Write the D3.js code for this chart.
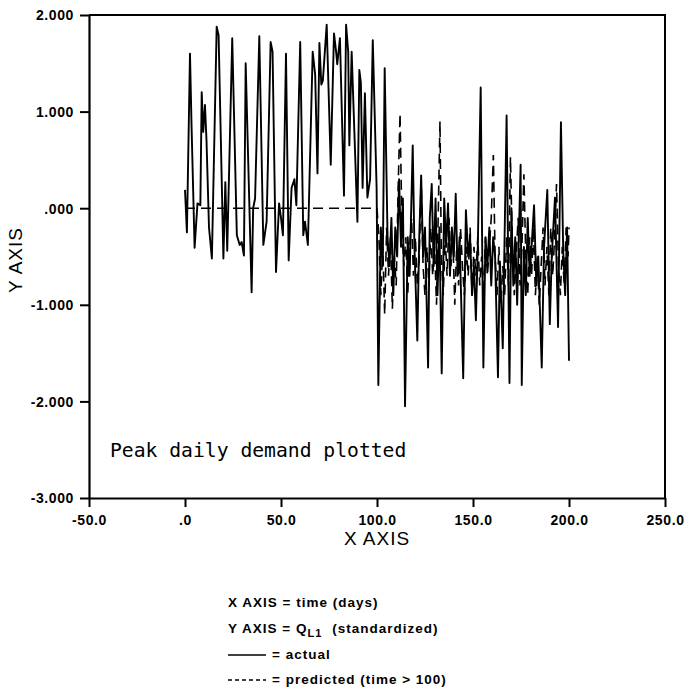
<!DOCTYPE html>
<html><head><meta charset="utf-8">
<script src="https://cdn.jsdelivr.net/npm/d3@7"></script>
<style>body{margin:0;background:#fff}</style>
</head><body>
<script>
const xTicks = [-50, 0, 50, 100, 150, 200, 250];
const xTickLabels = ["-50.0", ".0", "50.0", "100.0", "150.0", "200.0", "250.0"];
const yTicks = [-3, -2, -1, 0, 1, 2];
const yTickLabels = ["-3.000", "-2.000", "-1.000", ".000", "1.000", "2.000"];

// actual (solid) : [day, value]
const actual = [
[0,0.19],[1,-0.25],[2.6,1.6],[3.4,0.86],[5,-0.41],[6.5,0.05],[8,0.03],[8.7,1.2],[9.5,0.79],[10.4,1.07],
[11.2,0.7],[12.5,-0.2],[14,-0.52],[16.5,1.88],[17.5,1.79],[20,-0.52],[21,0.27],[22,-0.44],[24.6,1.76],[27,-0.28],
[28.5,-0.38],[29.5,-0.35],[30.7,-0.49],[31.6,1.5],[34.7,-0.87],[35.5,0.0],[36.5,0.1],[38.7,1.78],[40.8,-0.38],[42.5,-0.14],
[44.6,1.72],[45.6,1.62],[47.4,-0.66],[49,0.05],[50,-0.1],[51,-0.28],[52.6,1.6],[54,-0.54],[55.5,0.21],[57,0.3],
[58,0.03],[60,1.72],[61.6,-0.28],[62.5,-0.14],[64,-0.38],[66.5,1.62],[67.8,1.38],[69,0.36],[70,1.71],[71,1.28],
[71.8,1.32],[73.8,1.9],[75.9,0.45],[77.6,1.81],[78.7,1.62],[79.3,1.49],[80.7,1.76],[82.8,0.13],[83.9,1.9],[85,1.62],
[85.6,0.65],[86.8,1.62],[89.8,-0.14],[90.8,1.43],[91.6,1.3],[92.5,0.21],[93.7,1.19],[95,0.11],[96.4,0.3],[97.8,1.74],
[99.8,0.21],[100.7,-1.83],[102,-0.2],[103,-0.6],[104,1.45],[105.5,-0.3],[106.5,-0.6],[107.5,-0.1],[108.5,-0.9],[109.5,-0.2],
[110.5,-0.5],[111.5,0.3],[112.5,-0.4],[113.5,0.1],[114.6,-2.05],[116,-0.3],[117,-0.7],[118.6,0.65],[119.5,-0.4],[121,-1.37],
[122,-0.3],[123,0.34],[124,-0.5],[125,-0.2],[126.6,-1.65],[127.5,-0.1],[128.5,0.25],[129.5,-0.6],[130.5,0.1],[131.5,-0.9],
[132.5,-0.2],[133.7,-1.71],[135,0.1],[136,-0.4],[137,0.05],[138,-0.7],[139,-0.2],[140,-0.5],[141,0.15],[142,-0.7],
[143,-0.3],[144.9,-1.76],[146.3,-0.02],[147.5,-0.5],[148.5,-0.3],[149.5,-0.9],[150.5,-0.6],[151.5,-1.16],[152.5,-0.4],[154,1.25],
[155.4,-1.65],[156.5,-0.3],[157.5,-0.6],[158.5,-0.2],[159.5,-0.8],[160.5,-0.3],[161.5,-0.5],[163,-1.75],[164,-0.55],[165.5,-1.45],
[167.5,0.96],[169,-1.81],[170,0.0],[171,-0.8],[172,-0.3],[173,-1.0],[174.8,0.45],[175.4,-1.83],[176.5,-0.4],[177.5,-0.9],
[178.5,-0.1],[179.5,-0.7],[180.5,-0.4],[181.8,0.03],[183,-0.8],[184,-0.5],[185.8,-1.65],[187,-0.4],[188.7,0.19],[190,-1.2],
[191,-0.5],[192.7,0.11],[194.3,-1.23],[195.8,0.89],[197,-0.45],[198,-0.9],[199,-0.2],[200,-1.58]
];

// predicted (dashed) : [day, value]
const predicted = [
[0,0],[100,0],[101,-0.3],[102,-0.9],[103,-0.4],[104,-1.1],[105,-0.2],[106,-0.7],[107,-0.3],[108,-1.04],
[109,-0.5],[110,-0.8],[111,0.2],[112,0.98],[113,-0.2],[114,-0.6],[115,-0.3],[116,-0.9],[117,-0.4],[118,-0.1],
[119,-0.7],[120,-0.3],[121,-0.8],[122,-0.5],[123,0.3],[124,-0.6],[125,-0.9],[126,-0.4],[127,-0.8],[128,-0.2],
[129,-0.7],[130,-0.4],[131,-1.0],[132.8,0.9],[133.5,-0.5],[134.5,-0.9],[135.5,-0.3],[136.5,-0.7],[137.5,-0.1],[138.5,-0.6],
[139.5,-0.3],[140.5,-1.0],[141.5,-0.4],[142.5,-0.8],[143.5,-0.2],[144.5,-0.6],[145.5,-0.9],[146.5,-0.4],[147.5,-0.7],[148.5,-0.2],
[149.5,-0.9],[150.5,-0.4],[151.5,-0.7],[152.5,-0.3],[153.5,-0.8],[154.5,-0.5],[155.5,-0.9],[156.5,-0.3],[157.5,-0.7],[158.5,-0.4],
[159.5,-0.1],[160.6,0.55],[161.5,-0.5],[162.5,-0.9],[163.5,-0.4],[164.5,-1.0],[165.5,-0.6],[166.5,-0.9],[167.5,-0.3],[168.5,-0.8],
[169.5,0.53],[170.5,-0.4],[171.5,-0.9],[172.5,-0.5],[173.5,-0.1],[174.5,-0.8],[175.5,-0.4],[176.5,0.35],[177.5,-0.5],[178.5,-0.9],
[179.5,-0.3],[180.5,-0.7],[181.5,-0.2],[182.5,-0.9],[183.5,-0.5],[184.5,-1.0],[185.5,-0.6],[186.5,-0.2],[187.5,-0.8],[188.5,-0.4],
[189.5,-0.9],[190.5,-0.2],[191.5,-0.7],[192.5,-0.3],[193.5,0.25],[194.5,-0.6],[195.5,-0.9],[196.5,-0.4],[197.5,-0.8],[198.5,-0.2],
[199.5,-0.5],[200,-0.2]
];

const W = 690, H = 695;
const svg = d3.select("body").append("svg").attr("width", W).attr("height", H);
const x = d3.scaleLinear().domain([-50, 250]).range([89, 665]);
const y = d3.scaleLinear().domain([-3, 2]).range([498, 15]);
const tickFont = "'Liberation Sans', Arial, sans-serif";

// box top/right
svg.append("path").attr("d", `M${x(-50)},${y(2)}H${x(250)}V${y(-3)}`)
  .attr("fill", "none").attr("stroke", "#000").attr("stroke-width", 2);

const gx = svg.append("g").attr("transform", `translate(0,${y(-3)})`)
  .call(d3.axisBottom(x).tickValues(xTicks).tickSize(9).tickSizeOuter(0)
    .tickFormat((d, i) => xTickLabels[i]));
const gy = svg.append("g").attr("transform", `translate(${x(-50)},0)`)
  .call(d3.axisLeft(y).tickValues(yTicks).tickSize(9).tickSizeOuter(0)
    .tickFormat((d, i) => yTickLabels[i]));
[gx, gy].forEach(g => {
  g.select(".domain").attr("stroke-width", 2.2);
  g.selectAll(".tick line").attr("stroke-width", 2);
  g.selectAll("text").attr("font-family", tickFont).attr("font-weight", "bold")
    .attr("font-size", 14).attr("letter-spacing", "0.6px").attr("fill", "#000");
});
gx.selectAll("text").attr("dy", "1.05em");
gy.selectAll("text").attr("dy", "0.35em").attr("x", -15);

svg.append("text").attr("x", x(100)).attr("y", 545).attr("text-anchor", "middle")
  .attr("font-family", tickFont).attr("font-size", 19).attr("letter-spacing", "1px").text("X AXIS");
svg.append("text").attr("transform", `translate(22,260) rotate(-90)`).attr("text-anchor", "middle")
  .attr("font-family", tickFont).attr("font-size", 19).attr("letter-spacing", "1px").text("Y AXIS");

const line = d3.line().x(d => x(d[0])).y(d => y(d[1]));
svg.append("path").datum(predicted).attr("d", line).attr("fill", "none")
  .attr("stroke", "#000").attr("stroke-width", 1.6).attr("stroke-dasharray", "10,6");
svg.append("path").datum(actual).attr("d", line).attr("fill", "none")
  .attr("stroke", "#000").attr("stroke-width", 1.9).attr("stroke-linejoin", "round");

svg.append("text").attr("x", 110).attr("y", 457)
  .attr("font-family", "'DejaVu Sans Mono', monospace").attr("font-size", 19.7).text("Peak daily demand plotted");

// legend
const lg = svg.append("g").attr("font-family", tickFont).attr("font-weight", "bold").attr("font-size", 13.5).attr("letter-spacing", "1px");
lg.append("text").attr("x", 228).attr("y", 607).text("X AXIS = time (days)");
const t2 = lg.append("text").attr("x", 228).attr("y", 633);
t2.append("tspan").text("Y AXIS = Q");
t2.append("tspan").attr("dy", 4).attr("font-size", 11).text("L1");
t2.append("tspan").attr("dy", -4).attr("dx", 10).text("(standardized)");
lg.append("line").attr("x1", 228).attr("x2", 266).attr("y1", 655).attr("y2", 655).attr("stroke", "#000").attr("stroke-width", 1.5);
lg.append("text").attr("x", 272).attr("y", 659).text("= actual");
lg.append("line").attr("x1", 228).attr("x2", 266).attr("y1", 680).attr("y2", 680).attr("stroke", "#000").attr("stroke-width", 1.5).attr("stroke-dasharray", "4,3");
lg.append("text").attr("x", 272).attr("y", 684).text("= predicted (time > 100)");
</script>
</body></html>
